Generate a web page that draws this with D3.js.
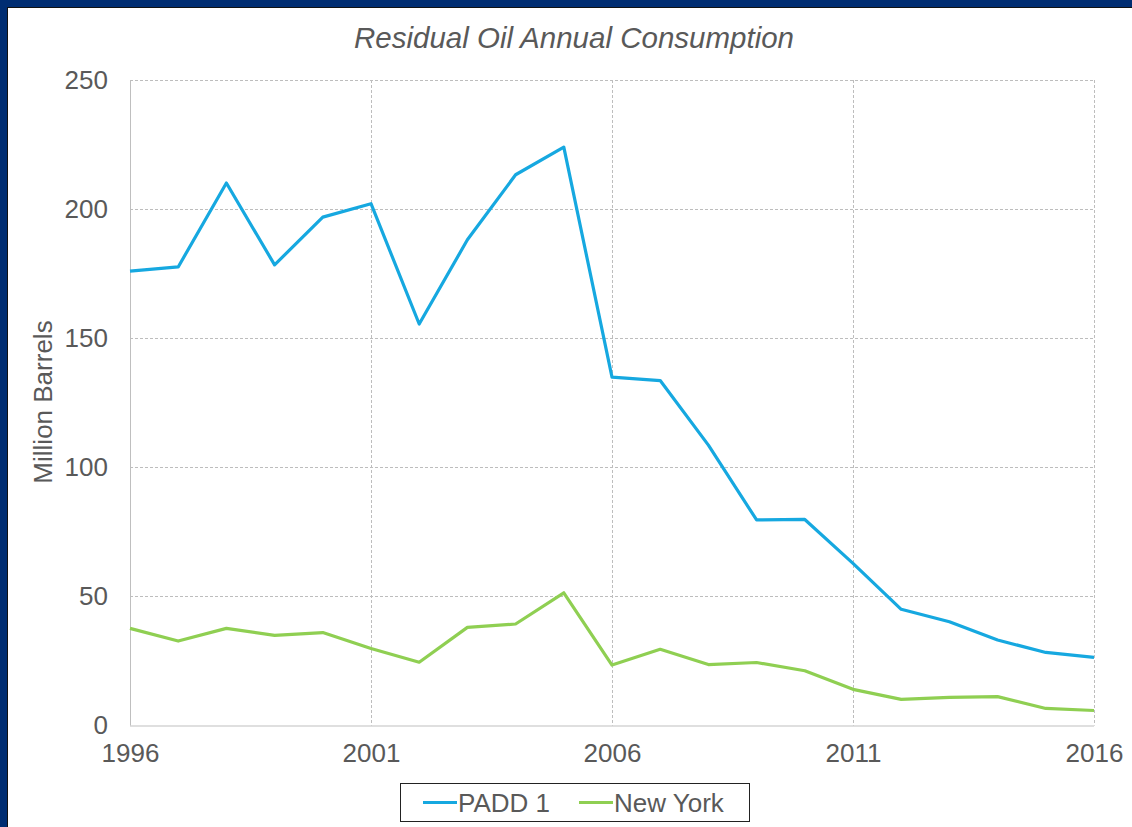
<!DOCTYPE html>
<html>
<head>
<meta charset="utf-8">
<script src="https://cdn.jsdelivr.net/npm/d3@7"></script>
<style>
  body { margin: 0; background: #ffffff; }
  svg text { font-family: "Liberation Sans", Arial, sans-serif; fill: #595959; }
</style>
</head>
<body>
<svg class="chart" width="1132" height="827"></svg>
<script>
const years = d3.range(1996, 2017);
const padd1 = [176.0, 177.6, 210.1, 178.4, 196.9, 202.1, 155.5, 188.1, 213.3, 224.0,
  134.9, 133.6, 108.6, 79.6, 79.8, 62.8, 45.0, 40.2, 33.1, 28.3, 26.4];
const newYork = [37.6, 32.7, 37.6, 34.9, 36.0, 29.8, 24.5, 38.0, 39.3, 51.4,
  23.4, 29.5, 23.6, 24.4, 21.2, 14.0, 10.1, 10.9, 11.2, 6.6, 5.8];
const yTicks = [0, 50, 100, 150, 200, 250];
const xTicks = [1996, 2001, 2006, 2011, 2016];
const seriesNames = ["PADD 1", "New York"];
const seriesColors = ["#16a8e0", "#8fcf52"];

const svg = d3.select(".chart");
const W = 1132, H = 827;

// frame
svg.append("rect").attr("width", W).attr("height", H).attr("fill", "#002d72");
svg.append("rect").attr("x", 7.5).attr("y", 7.5).attr("width", W).attr("height", H)
  .attr("fill", "#ffffff").attr("stroke", "#111111").attr("stroke-width", 1);

const margin = { top: 80, left: 130, right: 38, bottom: 101.5 };
const width = W - margin.left - margin.right;
const height = H - margin.top - margin.bottom;

const x = d3.scaleLinear().domain([1996, 2016]).range([0, width]);
const y = d3.scaleLinear().domain([0, 250]).range([height, 0]);

const g = svg.append("g").attr("transform", `translate(${margin.left},${margin.top})`);

// gridlines
g.append("g").selectAll("line").data(yTicks.filter(d => d > 0)).enter().append("line")
  .attr("x1", 0).attr("x2", width)
  .attr("y1", d => Math.round(y(d)) + 0.5).attr("y2", d => Math.round(y(d)) + 0.5)
  .attr("stroke", "#bdbdbd").attr("stroke-dasharray", "3,2");
g.append("g").selectAll("line").data(xTicks.filter(d => d > 1996)).enter().append("line")
  .attr("x1", d => Math.round(x(d)) + 0.5).attr("x2", d => Math.round(x(d)) + 0.5)
  .attr("y1", 0).attr("y2", height)
  .attr("stroke", "#bdbdbd").attr("stroke-dasharray", "3,2");

// axis lines
g.append("line").attr("x1", 0.5).attr("x2", 0.5).attr("y1", 0).attr("y2", height)
  .attr("stroke", "#bfbfbf");
g.append("line").attr("x1", 0).attr("x2", width).attr("y1", height + 0.5).attr("y2", height + 0.5)
  .attr("stroke", "#bfbfbf");

// y tick labels
const yAxis = d3.axisLeft(y).tickValues(yTicks).tickSize(0).tickPadding(22);
g.append("g").call(yAxis).call(a => a.select(".domain").remove())
  .selectAll("text").style("font-size", "26px").attr("fill", "#595959");

// x tick labels
const xAxis = d3.axisBottom(x).tickValues(xTicks).tickFormat(d3.format("d")).tickSize(0).tickPadding(18);
g.append("g").attr("transform", `translate(0,${height})`).call(xAxis)
  .call(a => a.select(".domain").remove())
  .selectAll("text").style("font-size", "26px").attr("fill", "#595959");

// lines
const line = d3.line().x((d, i) => x(years[i])).y(d => y(d));
[padd1, newYork].forEach((s, i) => {
  g.append("path").datum(s).attr("d", line).attr("fill", "none")
    .attr("stroke", seriesColors[i]).attr("stroke-width", 3.2)
    .attr("stroke-linejoin", "round");
});

// title
svg.append("text").attr("x", 574).attr("y", 48).attr("text-anchor", "middle")
  .style("font-size", "29.5px").style("font-style", "italic").text("Residual Oil Annual Consumption");

// y axis title
svg.append("text").attr("transform", "translate(52,402) rotate(-90)").attr("text-anchor", "middle")
  .style("font-size", "26px").text("Million Barrels");

// legend
const legend = svg.append("g");
legend.append("rect").attr("x", 400.5).attr("y", 783.5).attr("width", 349).attr("height", 38)
  .attr("fill", "#ffffff").attr("stroke", "#222222").attr("stroke-width", 1);
const legendX = [423, 579];
seriesNames.forEach((name, i) => {
  legend.append("line").attr("x1", legendX[i]).attr("x2", legendX[i] + 34)
    .attr("y1", 802.5).attr("y2", 802.5).attr("stroke", seriesColors[i]).attr("stroke-width", 3.2);
  legend.append("text").attr("x", legendX[i] + 35).attr("y", 811.5)
    .style("font-size", "26px").text(name);
});
</script>
</body>
</html>
